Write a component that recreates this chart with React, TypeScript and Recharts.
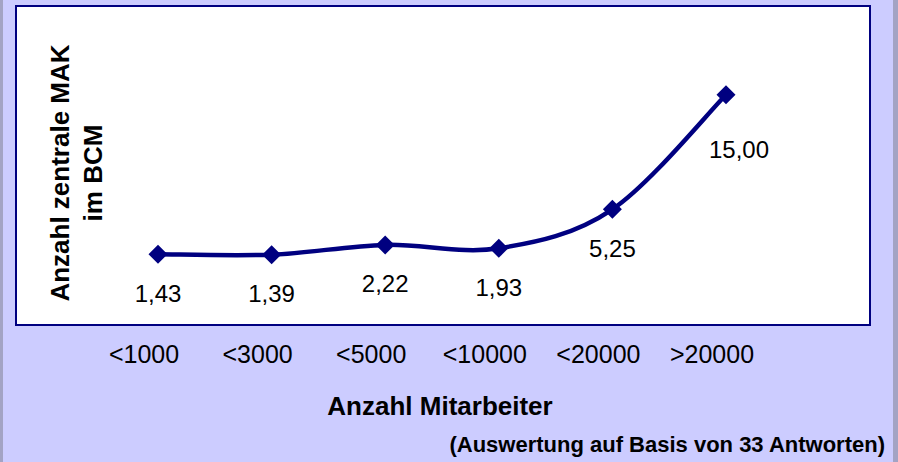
import React from 'react';
import { LineChart, Line, XAxis, YAxis, LabelList } from 'recharts';

const categories = ['<1000', '<3000', '<5000', '<10000', '<20000', '>20000'];
const values = [1.43, 1.39, 2.22, 1.93, 5.25, 15.0];
const xTitle = 'Anzahl Mitarbeiter';
const yTitleLines = ['Anzahl zentrale MAK', 'im BCM'];
const footnote = '(Auswertung auf Basis von 33 Antworten)';

const data = categories.map((cat, i) => ({ cat, value: values[i] }));

const FONT = '"Liberation Sans", Arial, sans-serif';
const NAVY = '#000080';

const fmt = (v: number) => v.toFixed(2).replace('.', ',');

// Excel-style smoothed line (Catmull-Rom as cubic beziers)
const excelSmooth = (context: any) => {
  let pts: [number, number][] = [];
  return {
    areaStart() {},
    areaEnd() {},
    lineStart() {
      pts = [];
    },
    lineEnd() {
      if (!pts.length) return;
      context.moveTo(pts[0][0], pts[0][1]);
      for (let i = 0; i < pts.length - 1; i++) {
        const p0 = pts[Math.max(i - 1, 0)];
        const p1 = pts[i];
        const p2 = pts[i + 1];
        const p3 = pts[Math.min(i + 2, pts.length - 1)];
        context.bezierCurveTo(
          p1[0] + (p2[0] - p0[0]) / 6,
          p1[1] + (p2[1] - p0[1]) / 6,
          p2[0] - (p3[0] - p1[0]) / 6,
          p2[1] - (p3[1] - p1[1]) / 6,
          p2[0],
          p2[1]
        );
      }
    },
    point(x: number, y: number) {
      pts.push([x, y]);
    },
  };
};

const Diamond = (props: any) => {
  const { cx, cy, index } = props;
  const r = 9.5;
  return (
    <path
      key={`d-${index}`}
      d={`M${cx},${cy - r} L${cx + r},${cy} L${cx},${cy + r} L${cx - r},${cy} Z`}
      fill={NAVY}
    />
  );
};

const CatTick = (props: any) => {
  const { x, y, payload } = props;
  return (
    <text x={x - 14} y={y + 39} textAnchor="middle" fontFamily={FONT} fontSize={25} fill="#000">
      {payload.value}
    </text>
  );
};

const ValueLabel = (props: any) => {
  const { x, y, value, index } = props;
  const last = index === values.length - 1;
  return (
    <text
      x={x + (last ? 13 : 0)}
      y={y + (last ? 63 : 47.5)}
      textAnchor="middle"
      fontFamily={FONT}
      fontSize={24}
      fill="#000"
    >
      {fmt(value)}
    </text>
  );
};

// axis titles + footnote, placed relative to the x-axis box
const Titles = (props: any) => {
  const vb = props.viewBox;
  const cy = 173;
  const xs = [69, 102];
  return (
    <g>
      <text
        x={vb.x + vb.width / 2 - 3}
        y={vb.y + 91}
        textAnchor="middle"
        fontFamily={FONT}
        fontSize={26}
        fontWeight="bold"
        fill="#000"
      >
        {xTitle}
      </text>
      <text
        x={vb.x + vb.width + 16}
        y={vb.y + 128}
        textAnchor="end"
        fontFamily={FONT}
        fontSize={22}
        fontWeight="bold"
        fill="#000"
      >
        {footnote}
      </text>
      {yTitleLines.map((t, i) => (
        <text
          key={t}
          x={xs[i]}
          y={cy}
          transform={`rotate(-90, ${xs[i]}, ${cy})`}
          textAnchor="middle"
          fontFamily={FONT}
          fontSize={26}
          fontWeight="bold"
          fill="#000"
        >
          {t}
        </text>
      ))}
    </g>
  );
};

export default function App() {
  return (
    <div
      style={{
        position: 'absolute',
        left: 0,
        top: 0,
        width: 898,
        height: 462,
        background: '#CCCCFF',
        overflow: 'hidden',
      }}
    >
      <div style={{ position: 'absolute', left: 0, top: 0, width: 3, height: 462, background: '#A3A3C4' }} />
      <div style={{ position: 'absolute', right: 0, top: 0, width: 5, height: 462, background: '#A3A3C4' }} />
      <div
        style={{
          position: 'absolute',
          left: 15,
          top: 5,
          width: 852,
          height: 317,
          background: '#fff',
          border: `2px solid ${NAVY}`,
        }}
      />
      <div style={{ position: 'absolute', left: 0, top: 0 }}>
        <LineChart
          width={898}
          height={462}
          data={data}
          margin={{ top: 7, right: 29, bottom: 98, left: 17 }}
        >
          <XAxis
            dataKey="cat"
            height={40}
            axisLine={false}
            tickLine={false}
            tickSize={0}
            tickMargin={0}
            interval={0}
            padding={{ left: 141, right: 143 }}
            tick={<CatTick />}
            label={<Titles />}
          />
          <YAxis hide domain={[0, 20]} padding={{ top: 29, bottom: 53 }} />
          <Line
            dataKey="value"
            type={excelSmooth as any}
            stroke={NAVY}
            strokeWidth={4.5}
            dot={<Diamond />}
            activeDot={false}
            isAnimationActive={false}
          >
            <LabelList dataKey="value" content={<ValueLabel />} />
          </Line>
        </LineChart>
      </div>
    </div>
  );
}
